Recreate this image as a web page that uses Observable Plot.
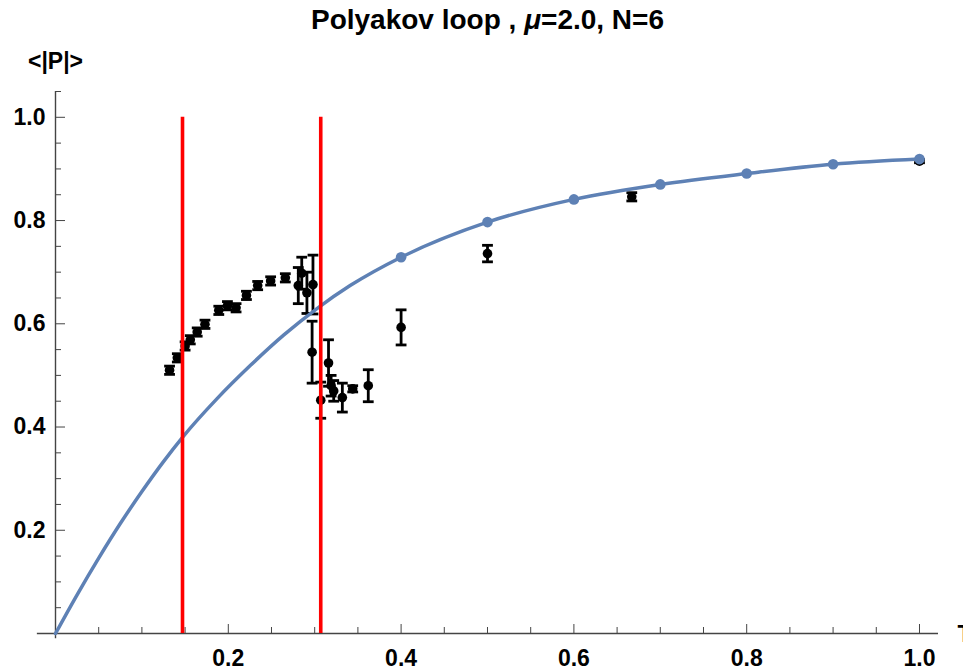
<!DOCTYPE html>
<html><head><meta charset="utf-8">
<script src="https://cdn.jsdelivr.net/npm/d3@7"></script>
<script src="https://cdn.jsdelivr.net/npm/@observablehq/plot@0.6"></script>
<style>
body{margin:0;background:#fff;}
#wrap{position:relative;width:963px;height:670px;overflow:hidden;font-family:"Liberation Sans",Arial,sans-serif;}
#title{position:absolute;left:37px;width:901px;top:0;height:40px;line-height:40px;text-align:center;font-weight:bold;font-size:28px;color:#000;white-space:nowrap;}
#chart{position:absolute;left:0;top:40px;}
</style></head>
<body>
<div id="wrap">
  <div id="title">Polyakov loop , <i>μ</i>=2.0, N=6</div>
  <div id="chart"></div>
</div>
<script>
// Smooth curve (blue)
const curveT = [0, 0.025, 0.05, 0.075, 0.1, 0.125, 0.147, 0.187, 0.226, 0.264, 0.303, 0.341, 0.4, 0.5, 0.6, 0.7, 0.8, 0.9, 1.0];
const curveP = [0, 0.075, 0.146, 0.213, 0.275, 0.333, 0.380, 0.455, 0.520, 0.578, 0.630, 0.674, 0.729, 0.797, 0.841, 0.870, 0.891, 0.909, 0.919];
// Blue sample points on the curve
const dotT = [0.4, 0.5, 0.6, 0.7, 0.8, 0.9, 1.0];
const dotP = [0.729, 0.797, 0.841, 0.870, 0.891, 0.909, 0.919];
// Black data points with error bars
const simT = [0.132,0.141,0.150,0.156,0.164,0.173,0.189,0.199,0.209,0.221,0.234,0.249,0.266,
              0.281,0.285,0.291,0.298,0.297,0.307,0.316,0.319,0.322,0.332,0.344,0.362,0.4,0.5,0.667,1.0];
const simP = [0.510,0.534,0.557,0.569,0.584,0.599,0.626,0.635,0.631,0.655,0.674,0.683,0.689,
              0.674,0.698,0.660,0.676,0.545,0.452,0.524,0.480,0.470,0.457,0.474,0.480,0.593,0.736,0.846,0.915];
const simErr = [0.008,0.008,0.008,0.008,0.008,0.008,0.008,0.008,0.008,0.008,0.008,0.008,0.008,
                0.035,0.031,0.04,0.057,0.06,0.035,0.045,0.02,0.02,0.028,0.006,0.031,0.034,0.016,0.008,0.003];
// Vertical red lines
const tcLines = [0.147, 0.307];
// Ticks
const majorTicks = [0.2, 0.4, 0.6, 0.8, 1.0];
const majorLabels = ["0.2", "0.4", "0.6", "0.8", "1.0"];
const xMinor = [0.05,0.1,0.15,0.25,0.3,0.35,0.45,0.5,0.55,0.65,0.7,0.75,0.85,0.9,0.95];
const yMinor = [0.05,0.1,0.15,0.25,0.3,0.35,0.45,0.5,0.55,0.65,0.7,0.75,0.85,0.9,0.95,1.05];
const yLabel = "<|P|>";
const xLabel = "T";

const curve = curveT.map((t, i) => ({t, p: curveP[i]}));
const dots = dotT.map((t, i) => ({t, p: dotP[i]}));
const sim = simT.map((t, i) => ({t, p: simP[i], e: simErr[i]}));
const labelOf = d => majorLabels[majorTicks.indexOf(d)];

const capSymbol = {draw(ctx, size) { const w = Math.sqrt(size / Math.PI); ctx.moveTo(-w, 0); ctx.lineTo(w, 0); }};
const axisColor = "#444";

const chart = Plot.plot({
  width: 963, height: 630,
  marginTop: 51, marginBottom: 37, marginLeft: 55, marginRight: 25,
  x: {domain: [0, 1.022], label: null},
  y: {domain: [0, 1.05], label: null},
  style: {fontFamily: "'Liberation Sans', Arial, sans-serif", fontWeight: "bold", fontSize: "23px", color: "#000", background: "#fff", overflow: "hidden"},
  marks: [
    Plot.ruleY([0], {x1: -0.021, x2: 1.022, stroke: axisColor, strokeWidth: 1.4}),
    Plot.ruleX([0], {y1: -0.01, y2: 1.05, stroke: axisColor, strokeWidth: 1.4}),
    Plot.axisX({ticks: xMinor, tickSize: -6, tickFormat: () => "", stroke: axisColor, label: null}),
    Plot.axisX({ticks: majorTicks, tickSize: -9, tickPadding: 25, tickFormat: labelOf, stroke: axisColor, label: null}),
    Plot.axisY({ticks: yMinor, tickSize: -6, tickFormat: () => "", stroke: axisColor, label: null}),
    Plot.axisY({ticks: majorTicks, tickSize: -10, tickPadding: 20, tickFormat: labelOf, stroke: axisColor, label: null}),
    Plot.ruleX(sim, {x: "t", y1: d => d.p - d.e, y2: d => d.p + d.e, stroke: "black", strokeWidth: 2.8}),
    Plot.dot(sim, {x: "t", y: d => d.p + d.e, r: 5.4, symbol: capSymbol, stroke: "black", strokeWidth: 2.8, fill: "none"}),
    Plot.dot(sim, {x: "t", y: d => d.p - d.e, r: 5.4, symbol: capSymbol, stroke: "black", strokeWidth: 2.8, fill: "none"}),
    Plot.dot(sim, {x: "t", y: "p", r: 4.8, fill: "black"}),
    Plot.line(curve, {x: "t", y: "p", stroke: "#5e81b5", strokeWidth: 3.5, curve: "monotone-x"}),
    Plot.dot(dots, {x: "t", y: "p", r: 5.3, fill: "#5e81b5"}),
    Plot.ruleX(tcLines, {y1: 0, y2: 1, stroke: "#ff0000", strokeWidth: 3.6}),
    Plot.text([yLabel], {frameAnchor: "top-left", dy: -39, textAnchor: "middle", fontSize: 23, fontWeight: "bold", fill: "black"}),
    Plot.text([xLabel], {frameAnchor: "bottom-right", dx: 19, dy: -8, textAnchor: "start", lineAnchor: "top", fontSize: 23, fontWeight: "bold", fill: "black"})
  ]
});
document.getElementById("chart").appendChild(chart);
</script>
</body></html>
